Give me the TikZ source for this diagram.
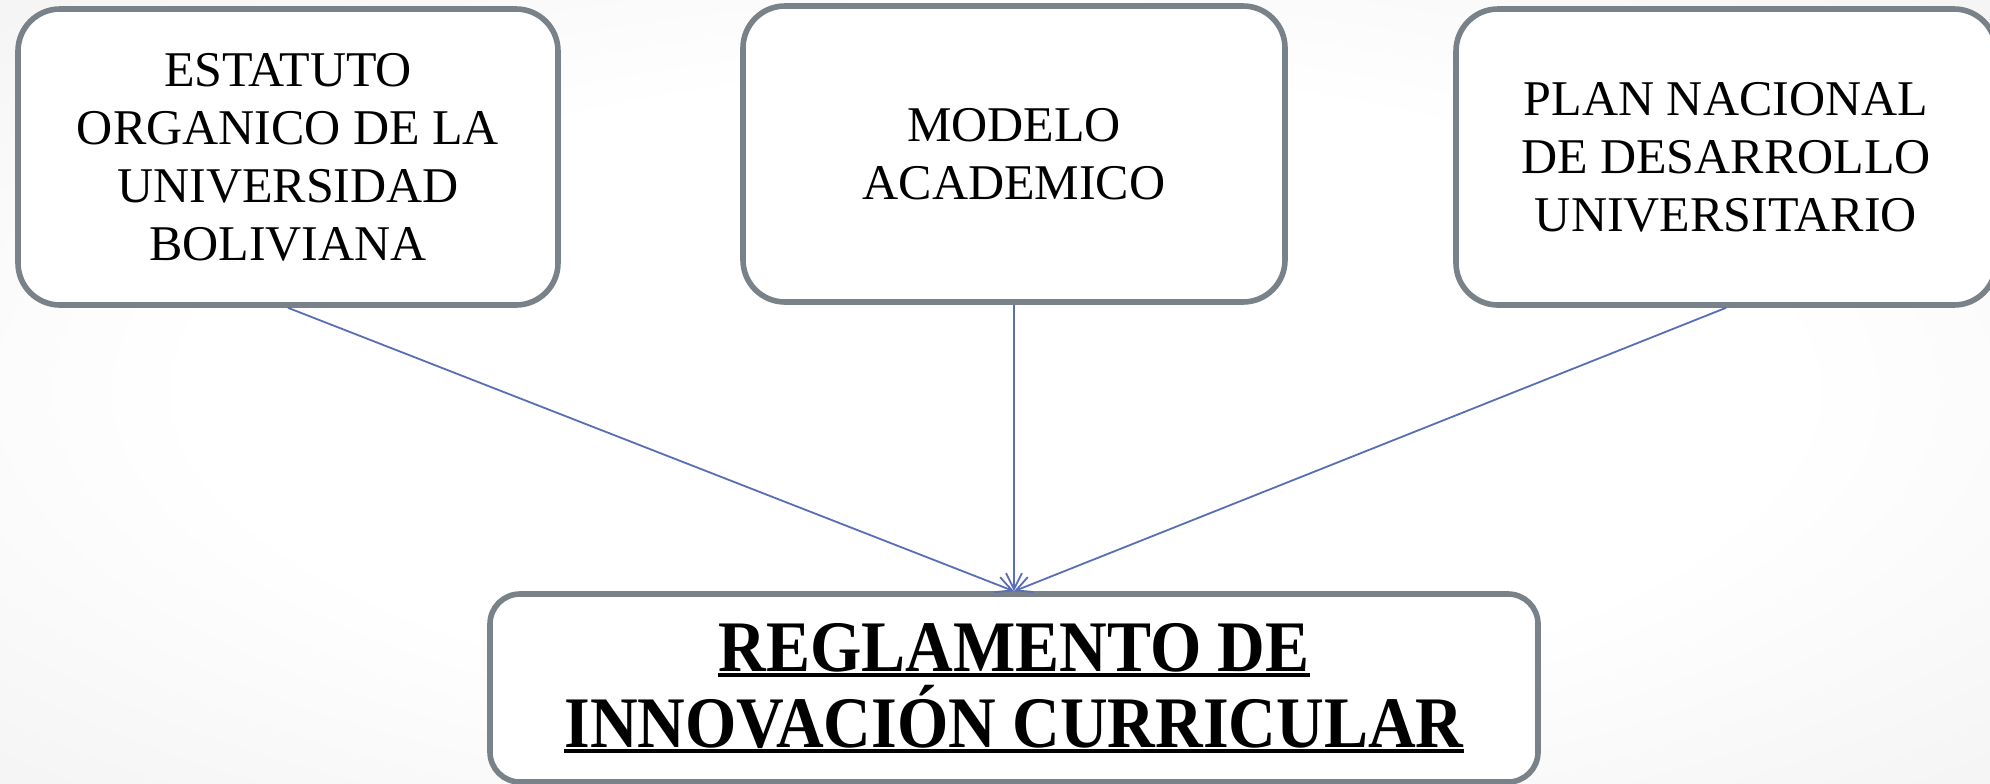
\documentclass[tikz,border=0pt]{standalone}
\usepackage{fontspec}
\setmainfont{Liberation Serif}
\usetikzlibrary{arrows.meta}
\definecolor{boxgray}{RGB}{120,130,136}
\definecolor{linkblue}{RGB}{88,110,182}
\pgfdeclareradialshading{bgshade}{\pgfpoint{0bp}{0bp}}{color(0bp)=(white); color(20bp)=(white); color(50bp)=(black!8); color(71bp)=(black!10)}
\newcommand\myuline[1]{\leavevmode\setbox0=\hbox{#1}\rlap{\rule[-2.6pt]{\wd0}{1.6pt}}\box0}
\begin{document}
\begin{tikzpicture}[x=0.5pt,y=-0.5pt,
  srcbox/.style={draw=boxgray, line width=2.8pt, rounded corners=21pt, fill=white,
    minimum width=270pt, minimum height=148pt, align=center, inner sep=0pt,
    font=\fontsize{25}{29}\selectfont},
  goalbox/.style={draw=boxgray, line width=2.8pt, rounded corners=15pt, fill=white,
    minimum width=524pt, minimum height=94pt, align=center, inner sep=0pt,
    font=\bfseries\fontsize{33}{38}\selectfont},
  link/.style={draw=linkblue, line width=0.9pt, -{Straight Barb[length=8pt,width=8pt]}}]
\useasboundingbox (0,0) rectangle (1990,783);
\shade[shading=bgshade] (0,0) rectangle (1990,783);
\node[srcbox] (est) at (288,157) {ESTATUTO\\ORGANICO DE LA\\UNIVERSIDAD\\BOLIVIANA};
\node[srcbox, minimum width=271pt] (mod) at (1014,154) {MODELO\\ACADEMICO};
\node[srcbox, minimum width=270pt] (pla) at (1726,157) {PLAN NACIONAL\\DE DESARROLLO\\UNIVERSITARIO};
\node[goalbox] (reg) at (1014,688) {\scalebox{1}[1.1]{\myuline{REGLAMENTO DE}}\\\scalebox{1}[1.1]{\myuline{INNOVACIÓN CURRICULAR}}};
\draw[link] (est.south) -- (reg.north);
\draw[link] (mod.south) -- (reg.north);
\draw[link] (pla.south) -- (reg.north);
\end{tikzpicture}
\end{document}
